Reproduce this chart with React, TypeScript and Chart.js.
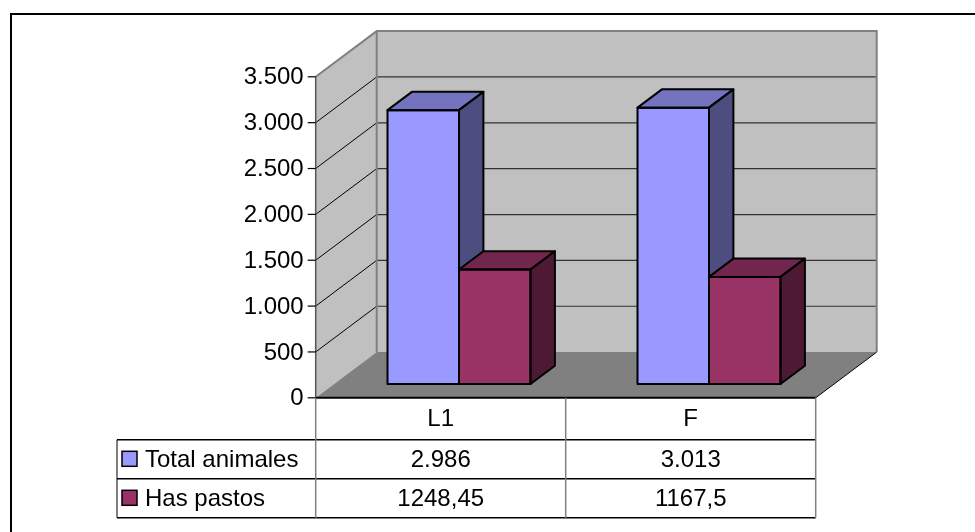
import React, { useEffect, useRef } from 'react';
import { Chart, registerables } from 'chart.js';

Chart.register(...registerables);

const categories = ['L1', 'F'];
const seriesNames = ['Total animales', 'Has pastos'];
const totalAnimales = [2986, 3013];
const hasPastos = [1248.45, 1167.5];
const tableTotal = ['2.986', '3.013'];
const tablePastos = ['1248,45', '1167,5'];
const yTicks = [0, 500, 1000, 1500, 2000, 2500, 3000, 3500];
const yTickLabels = ['0', '500', '1.000', '1.500', '2.000', '2.500', '3.000', '3.500'];

const FRONT = ['#9999FF', '#993366'];
const TOP = ['#7373BF', '#73264D'];
const SIDE = ['#4D4D80', '#4D1933'];

// 3D geometry (offsets relative to the bar plane)
const FX = -18.3;
const FY = 13.8;
const DX = 61;
const DY = -45.7;
const BDX = 24.4;
const BDY = -18.3;
const FONT = '24px "Liberation Sans", Arial, sans-serif';

function poly(ctx: CanvasRenderingContext2D, pts: number[][]) {
  ctx.beginPath();
  ctx.moveTo(pts[0][0], pts[0][1]);
  for (let i = 1; i < pts.length; i++) ctx.lineTo(pts[i][0], pts[i][1]);
  ctx.closePath();
}

function line(ctx: CanvasRenderingContext2D, x1: number, y1: number, x2: number, y2: number) {
  ctx.beginPath();
  ctx.moveTo(x1, y1);
  ctx.lineTo(x2, y2);
  ctx.stroke();
}

const threeD = {
  id: 'threeD',
  beforeDatasetsDraw(chart: any) {
    const { ctx, chartArea: ca, scales } = chart;
    const ys = scales.y;
    const L = ca.left + FX;
    const R = ca.right + FX;
    const yf = (v: number) => ys.getPixelForValue(v) + FY;
    const top = yf(yTicks[yTicks.length - 1]);
    const bot = yf(0);
    ctx.save();
    ctx.fillStyle = '#C0C0C0';
    ctx.fillRect(L + DX, top + DY, R - L, bot - top);
    poly(ctx, [[L, bot], [L, top], [L + DX, top + DY], [L + DX, bot + DY]]);
    ctx.fill();
    ctx.fillStyle = '#808080';
    poly(ctx, [[L, bot], [R, bot], [R + DX, bot + DY], [L + DX, bot + DY]]);
    ctx.fill();
    for (const v of yTicks) {
      if (v <= 0 || v >= yTicks[yTicks.length - 1]) continue;
      const p = yf(v);
      ctx.strokeStyle = '#333333';
      ctx.lineWidth = 1.2;
      line(ctx, L + DX, p + DY, R + DX, p + DY);
      ctx.strokeStyle = '#000000';
      ctx.lineWidth = 1;
      line(ctx, L, p, L + DX, p + DY);
    }
    ctx.strokeStyle = '#808080';
    ctx.lineWidth = 2;
    ctx.beginPath();
    ctx.moveTo(L, top);
    ctx.lineTo(L + DX, top + DY);
    ctx.lineTo(R + DX, top + DY);
    ctx.lineTo(R + DX, bot + DY);
    ctx.stroke();
    line(ctx, L + DX, top + DY, L + DX, bot + DY);
    ctx.strokeStyle = '#000000';
    ctx.lineWidth = 1;
    line(ctx, R, bot, R + DX, bot + DY);
    ctx.strokeStyle = '#555555';
    ctx.lineWidth = 1.5;
    line(ctx, L, top, L, bot);
    ctx.strokeStyle = '#000000';
    ctx.lineWidth = 1.2;
    ctx.fillStyle = '#000000';
    ctx.font = FONT;
    ctx.textAlign = 'right';
    ctx.textBaseline = 'middle';
    yTicks.forEach((v, i) => {
      const p = yf(v);
      line(ctx, L - 8, p, L, p);
      ctx.fillText(yTickLabels[i], L - 12, p + 1);
    });
    ctx.restore();
  },
  afterDatasetsDraw(chart: any) {
    const { ctx } = chart;
    ctx.save();
    ctx.lineWidth = 2;
    ctx.lineJoin = 'round';
    ctx.strokeStyle = '#000000';
    const n = chart.data.labels.length;
    for (let c = 0; c < n; c++) {
      chart.data.datasets.forEach((_: any, i: number) => {
        const bar = chart.getDatasetMeta(i).data[c];
        const { x, y, base, width } = bar.getProps(['x', 'y', 'base', 'width'], true);
        const l = x - width / 2;
        const r = x + width / 2;
        ctx.fillStyle = FRONT[i];
        ctx.fillRect(l, y, r - l, base - y);
        ctx.fillStyle = TOP[i];
        poly(ctx, [[l, y], [r, y], [r + BDX, y + BDY], [l + BDX, y + BDY]]);
        ctx.fill();
        ctx.stroke();
        ctx.fillStyle = SIDE[i];
        poly(ctx, [[r, y], [r + BDX, y + BDY], [r + BDX, base + BDY], [r, base]]);
        ctx.fill();
        ctx.stroke();
        ctx.strokeRect(l, y, r - l, base - y);
      });
    }
    ctx.restore();
  },
  afterDraw(chart: any) {
    const { ctx, chartArea: ca, scales } = chart;
    const ys = scales.y;
    const xs = scales.x;
    const L = ca.left + FX;
    const R = ca.right + FX;
    const bot = ys.getPixelForValue(0) + FY;
    const rows = [bot, bot + 42, bot + 81, bot + 120];
    const legL = 117;
    const half = (R - L) / (2 * categories.length);
    ctx.save();
    ctx.strokeStyle = '#000000';
    ctx.lineWidth = 2;
    line(ctx, L, rows[0], R, rows[0]);
    ctx.lineWidth = 1.5;
    for (let k = 1; k < rows.length; k++) line(ctx, legL, rows[k], R, rows[k]);
    ctx.lineWidth = 1;
    line(ctx, legL, rows[1], legL, rows[3]);
    ctx.strokeStyle = '#808080';
    ctx.lineWidth = 1.5;
    line(ctx, L, rows[0], L, rows[3]);
    categories.forEach((_, c) => {
      const cx = xs.getPixelForValue(c) + FX;
      line(ctx, cx + half, rows[0], cx + half, rows[3]);
    });
    ctx.fillStyle = '#000000';
    ctx.font = FONT;
    ctx.textAlign = 'center';
    ctx.textBaseline = 'middle';
    const rowVals = [tableTotal, tablePastos];
    categories.forEach((cat, c) => {
      const cx = xs.getPixelForValue(c) + FX;
      ctx.fillText(cat, cx, (rows[0] + rows[1]) / 2 + 1);
      rowVals.forEach((vals, r) => {
        ctx.fillText(vals[c], cx, (rows[r + 1] + rows[r + 2]) / 2 + 1);
      });
    });
    ctx.textAlign = 'left';
    seriesNames.forEach((name, r) => {
      const mid = (rows[r + 1] + rows[r + 2]) / 2;
      ctx.fillStyle = FRONT[r];
      ctx.fillRect(122, mid - 8, 15, 15);
      ctx.strokeStyle = '#000000';
      ctx.lineWidth = 1.5;
      ctx.strokeRect(122, mid - 8, 15, 15);
      ctx.fillStyle = '#000000';
      ctx.fillText(name, 145, mid + 1);
    });
    ctx.strokeStyle = '#000000';
    ctx.lineWidth = 2;
    ctx.beginPath();
    ctx.moveTo(11, 532);
    ctx.lineTo(11, 14);
    ctx.lineTo(975, 14);
    ctx.stroke();
    ctx.restore();
  },
};

export default function App() {
  const ref = useRef<HTMLCanvasElement>(null);
  useEffect(() => {
    if (!ref.current) return;
    const chart = new Chart(ref.current, {
      type: 'bar',
      data: {
        labels: categories,
        datasets: [
          { label: seriesNames[0], data: totalAnimales, backgroundColor: FRONT[0], borderWidth: 0 },
          { label: seriesNames[1], data: hasPastos, backgroundColor: FRONT[1], borderWidth: 0 },
        ],
      },
      options: {
        animation: false,
        responsive: false,
        devicePixelRatio: 1,
        layout: { padding: { left: 334, right: 141, top: 63, bottom: 148 } },
        datasets: { bar: { categoryPercentage: 0.572, barPercentage: 1 } },
        plugins: { legend: { display: false }, tooltip: { enabled: false }, title: { display: false } },
        scales: {
          x: { display: false },
          y: { display: false, min: 0, max: 3500, ticks: { stepSize: 500 } },
        },
      },
      plugins: [threeD],
    });
    return () => chart.destroy();
  }, []);
  return (
    <div style={{ position: 'absolute', left: 0, top: 0, width: 975, height: 532, background: '#fff' }}>
      <canvas ref={ref} width={975} height={532} style={{ display: 'block' }} />
    </div>
  );
}
